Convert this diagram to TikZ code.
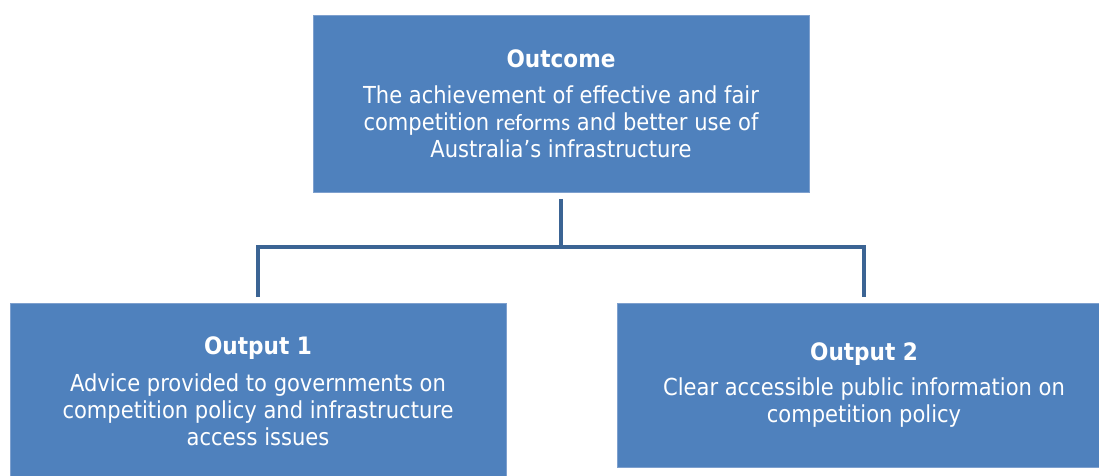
\documentclass[tikz,border=0pt]{standalone}
\usepackage{fontspec}
\setmainfont{DejaVu Sans Condensed}
\newfontfamily\calib{Carlito}
\definecolor{boxblue}{HTML}{4F81BD}
\definecolor{boxedge}{HTML}{7EA0CE}
\definecolor{connblue}{HTML}{3B6494}
\tikzset{
  box/.style={rectangle, fill=boxblue, draw=boxedge, line width=0.8pt, anchor=north west, inner sep=0pt},
  title/.style={text=white, font=\fontsize{24}{28}\selectfont\bfseries},
  body/.style={text=white, font=\fontsize{23.4}{27}\selectfont, align=center},
  conn/.style={draw=connblue, line width=4pt, line join=miter}
}
\begin{document}
\begin{tikzpicture}[x=1pt,y=-1pt]
\useasboundingbox (0,0) rectangle (1099,475);
\node[box, minimum width=496pt, minimum height=177pt] (outcome) at (313,15) {};
\node[box, minimum width=496pt, minimum height=175pt] (o1) at (10,303) {};
\node[box, minimum width=494pt, minimum height=164pt] (o2) at (617,303) {};
\node[title] (t0) at (561,59) {Outcome};
\node[body] (b0) at (561,122) {The achievement of effective and fair\\competition {\calib\fontsize{23.4}{27}\selectfont reforms} and better use of\\Australia’s infrastructure};
\node[title] (t1) at (258,348) {Output 1};
\node[body] (b1) at (258,410) {Advice provided to governments on\\competition policy and infrastructure\\access issues};
\node[title] (t2) at (864,354) {Output 2};
\node[body] (b2) at (864,402.5) {Clear accessible public information on\\competition policy};
\coordinate (hl) at (258,247);
\coordinate (hr) at (864,247);
\coordinate (dl) at (258,297);
\coordinate (dr) at (864,297);
\draw[conn] ([yshift=-6pt]outcome.south) -- (outcome.south |- hl);
\draw[conn] (dl) -- (hl) -- (hr) -- (dr);
\end{tikzpicture}
\end{document}
